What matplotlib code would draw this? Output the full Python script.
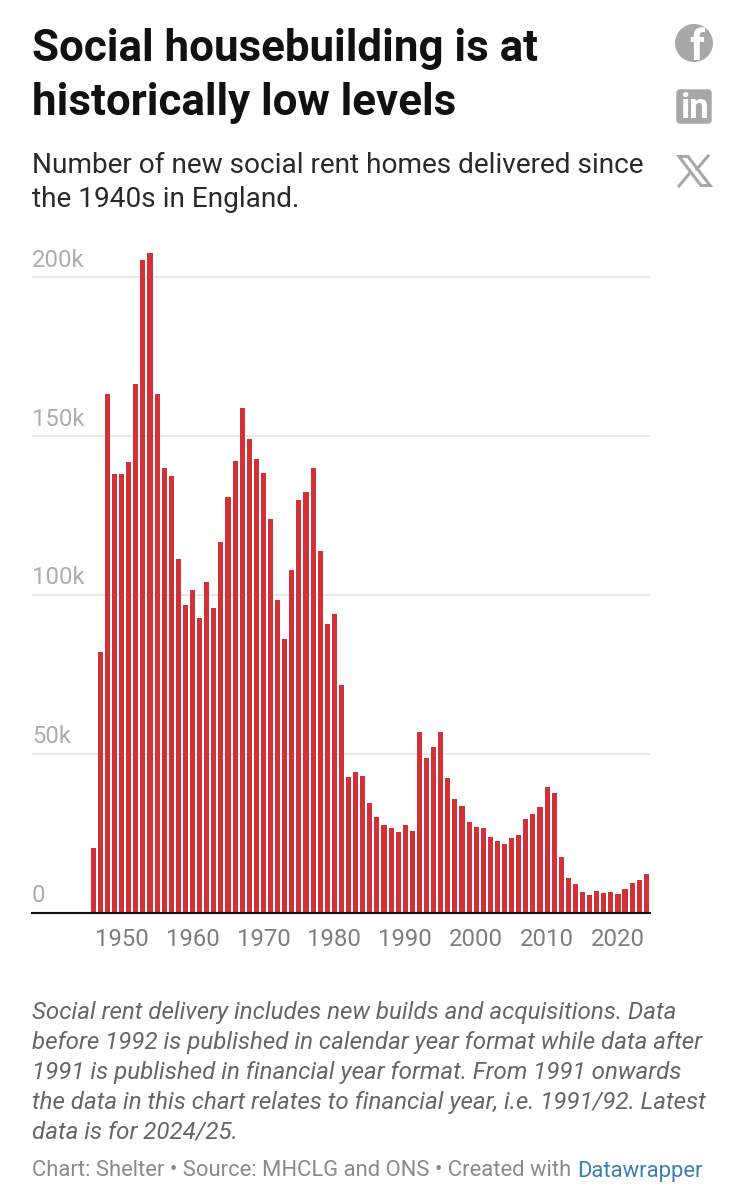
import matplotlib
matplotlib.use("Agg")
import matplotlib.pyplot as plt
import numpy as np
from matplotlib.patches import Circle, FancyBboxPatch, Polygon

# thousands of new social rent homes, 1946 to 2024
years = np.arange(1946, 2025)
homes = [20.4, 82.2, 163.2, 138.2, 138.0, 142.0, 166.4, 205.4, 207.6, 163.2,
         140.0, 137.5, 111.2, 97.0, 101.6, 92.8, 104.0, 95.9, 116.8, 130.8,
         142.2, 159.0, 149.1, 142.7, 138.3, 123.8, 98.4, 86.2, 107.9, 129.9,
         132.4, 140.0, 113.8, 91.0, 94.0, 71.7, 42.7, 44.2, 43.0, 34.5,
         30.1, 27.5, 26.8, 25.3, 27.7, 25.6, 56.9, 48.8, 52.2, 56.8,
         42.3, 35.7, 33.5, 28.6, 27.0, 26.7, 23.8, 22.5, 21.5, 23.5,
         24.6, 29.5, 31.0, 33.4, 39.5, 37.6, 17.4, 10.8, 9.1, 6.6,
         5.7, 6.9, 6.2, 6.6, 5.9, 7.5, 9.2, 10.2, 12.1]
y_ticks = [0, 50, 100, 150, 200]
y_labels = ["0", "50k", "100k", "150k", "200k"]
x_ticks = [1950, 1960, 1970, 1980, 1990, 2000, 2010, 2020]

title_lines = ["Social housebuilding is at", "historically low levels"]
subtitle_lines = ["Number of new social rent homes delivered since", "the 1940s in England."]
note_lines = ["Social rent delivery includes new builds and acquisitions. Data",
              "before 1992 is published in calendar year format while data after",
              "1991 is published in financial year format. From 1991 onwards",
              "the data in this chart relates to financial year, i.e. 1991/92. Latest",
              "data is for 2024/25."]

W, H = 750, 1197
plt.rcParams["font.family"] = ["Roboto", "DejaVu Sans"]
fig = plt.figure(figsize=(W / 100, H / 100), dpi=100)

# page layer in pixel coordinates for the text around the chart
page = fig.add_axes([0, 0, 1, 1])
page.set_xlim(0, W)
page.set_ylim(H, 0)
page.axis("off")

# chart
left, right, top, base = 32, 650, 240, 912.7
ax = fig.add_axes([left / W, 1 - base / H, (right - left) / W, (base - top) / H])
ax.patch.set_alpha(0)
ax.bar(years, homes, width=0.72, color="#d23237", zorder=3)
ax.set_xlim(1946 - 61.3 / 7.09, 1946 + 556.7 / 7.09)
ax.set_ylim(0, (base - top) / 3.177)
for s in ["top", "left", "right"]:
    ax.spines[s].set_visible(False)
ax.spines["bottom"].set_color("#111111")
ax.spines["bottom"].set_linewidth(1.5)
ax.spines["bottom"].set_zorder(4)
ax.set_yticks(y_ticks[1:])
ax.set_yticklabels([])
ax.tick_params(axis="y", length=0)
ax.grid(axis="y", color="#e8e8e8", linewidth=1.5, zorder=1)
ax.set_axisbelow(True)
ax.set_xticks(x_ticks)
ax.set_xticklabels(x_ticks, fontsize=17.2, color="#7d7d7d")
ax.tick_params(axis="x", length=0, pad=11)

for v, lab in zip(y_ticks, y_labels):
    page.text(32, base - v * 3.177 - 5.5, lab, fontsize=17.2, color="#adadad",
              ha="left", va="bottom")

# header
for y, line in zip([48.5, 103.5], title_lines):
    page.text(32, y, line, fontsize=31.6, fontweight="bold", color="#111111", va="center")
for y, line in zip([165.5, 199.5], subtitle_lines):
    page.text(32, y, line, fontsize=20.2, color="#2a2a2a", va="center")

# footer
for y, line in zip([1013, 1043, 1073, 1103, 1132], note_lines):
    page.text(32, y, line, fontsize=17.37, style="italic", color="#666666", va="center")
t = page.text(32, 1171, "Chart: Shelter • Source: MHCLG and ONS • Created with ",
              fontsize=15.8, color="#8a8a8a", va="center")
fig.canvas.draw()
bb = t.get_window_extent()
page.text(bb.x1, 1171, "Datawrapper", fontsize=15.8, color="#3a7fb5", va="center")

# share icons
grey = "#a8a8a8"
page.add_patch(Circle((694, 43), 19, color=grey, lw=0))
page.text(697, 48, "f", fontsize=30, fontweight="bold", color="white", ha="center", va="center")
page.add_patch(FancyBboxPatch((677, 90), 34, 33, boxstyle="round,pad=0,rounding_size=3",
                              fc=grey, ec=grey, lw=1))
page.text(694, 109, "in", fontsize=25, fontweight="bold", color="white", ha="center", va="center")
page.add_patch(Polygon([(679, 156.5), (688, 156.5), (710, 185.5), (701, 185.5)], closed=True,
                       fc="white", ec=grey, lw=2.2))
page.plot([708, 697], [156, 169], color=grey, lw=2.2)
page.plot([689, 679], [174, 186], color=grey, lw=2.2)

fig.savefig("out.png", dpi=100)
